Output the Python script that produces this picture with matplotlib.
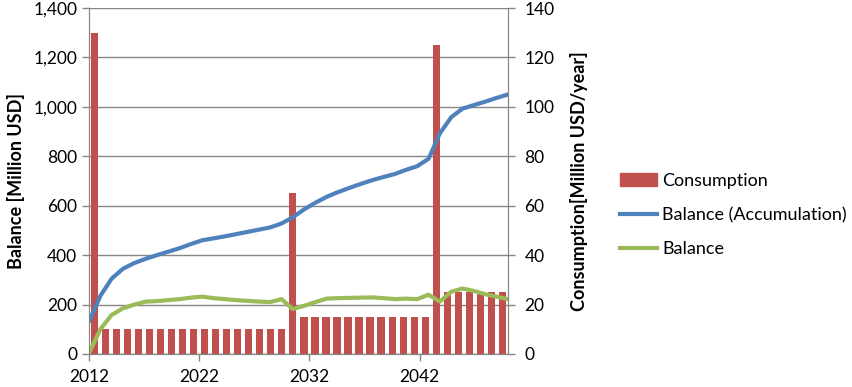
import numpy as np
import matplotlib
matplotlib.use("Agg")
import matplotlib.pyplot as plt
from matplotlib.patches import Patch
from matplotlib.lines import Line2D

plt.rcParams['font.family'] = ['Lato', 'DejaVu Sans']

# Data (2012 .. 2049)
years = np.arange(2012, 2050)
consumption = [130] + [10] * 17 + [65] + [15] * 12 + [125] + [25] * 6
balance_acc = [131, 235, 305, 345, 368, 385, 400, 414, 428, 445,
               460, 468, 476, 485, 494, 503, 512, 528, 553, 585,
               612, 636, 655, 672, 688, 703, 716, 728, 745, 760,
               790, 893, 958, 993, 1007, 1021, 1036, 1050]
balance = [3, 100, 158, 185, 200, 212, 214, 218, 222, 228,
           232, 226, 222, 218, 215, 212, 210, 222, 182, 195,
           210, 224, 226, 227, 228, 229, 226, 222, 224, 222,
           240, 212, 252, 265, 255, 242, 232, 222]
tick_years = [2012, 2022, 2032, 2042]

red = '#C0504D'
blue = '#4F81BD'
green = '#9BBB59'
gray = '#868686'

n = len(years)
fig = plt.figure(figsize=(8.52, 3.87), dpi=100)
ax = fig.add_axes([0.1045, 0.0853, 0.4915, 0.894])
ax2 = ax.twinx()

# bars sit between tick marks, lines on tick marks (Excel style)
bar_x = np.arange(n) + 0.5
line_x = np.arange(n) * n / (n - 1)

# consumption bars on the right-hand scale
ax.bar(bar_x, consumption, width=0.65, color=red, zorder=2)
ax.set_ylim(0, 140)
ax.set_yticks(np.arange(0, 141, 20))
ax.yaxis.tick_right()
ax.yaxis.set_label_position('right')
ax.set_ylabel('Consumption[Million USD/year]', fontsize=13, fontweight='bold', labelpad=11)
ax.grid(axis='y', color=gray, lw=1)
ax.set_axisbelow(True)

# balances on the left-hand scale
ax2.plot(line_x, balance_acc, color=blue, lw=3, solid_capstyle='round')
ax2.plot(line_x, balance, color=green, lw=3, solid_capstyle='round')
ax2.set_ylim(0, 1400)
ax2.set_yticks(np.arange(0, 1401, 200))
ax2.set_yticklabels([f'{v:,}' for v in range(0, 1401, 200)])
ax2.yaxis.tick_left()
ax2.yaxis.set_label_position('left')
ax2.set_ylabel('Balance [Million USD]', fontsize=13, fontweight='bold', labelpad=6)

ax.set_xlim(0, n)
ax.set_xticks([y - years[0] for y in tick_years])
ax.set_xticklabels([str(y) for y in tick_years])

for a in (ax, ax2):
    a.spines['top'].set_visible(False)
    for s in ('left', 'right', 'bottom'):
        a.spines[s].set_color(gray)
    a.tick_params(colors=gray, labelcolor='black', labelsize=12.5, length=5, width=1)
ax.tick_params(axis='y', pad=7)
ax.tick_params(axis='x', pad=6)

handles = [Patch(color=red), Line2D([], [], color=blue, lw=3),
           Line2D([], [], color=green, lw=3)]
labels = ['Consumption', 'Balance (Accumulation)', 'Balance']
fig.legend(handles, labels, loc='center left', bbox_to_anchor=(0.7277, 0.444),
           frameon=False, fontsize=13, handlelength=2.05, handletextpad=0.3,
           labelspacing=1.0, borderpad=0, borderaxespad=0)

fig.savefig('out.png', dpi=100)
